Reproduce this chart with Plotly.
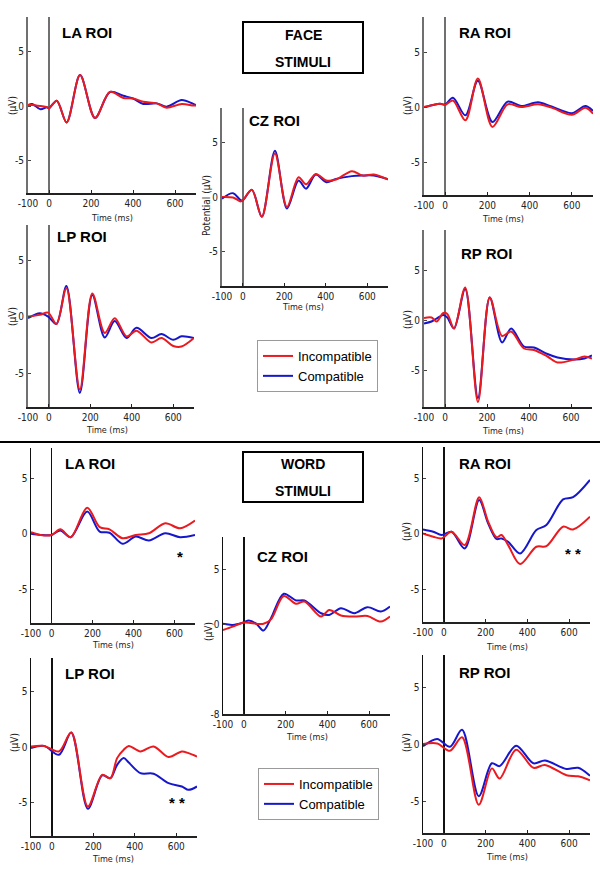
import plotly.graph_objects as go

W, H = 600, 869
RED = "#ea1a1f"
BLUE = "#1616cc"

# ---------------- DATA (time in ms, potential in µV) ----------------
face_la_t = [-100, -80, -40, -10, 0, 37, 84, 148, 219, 290, 354, 400, 449, 513, 560, 632, 687, 700]
face_la_inc = [0.1, 0.1, 0.0, -0.1, -0.2, 0.5, -1.5, 2.85, -1.1, 1.3, 0.75, 0.7, 0.4, 0.25, -0.15, 0.2, 0.05, 0.05]
face_la_com = [0.1, 0.2, -0.3, -0.1, -0.2, 0.5, -1.5, 2.85, -1.1, 1.3, 0.95, 0.7, 0.2, 0.25, -0.05, 0.55, 0.2, 0.1]

face_cz_t = [-100, -47, -10, 0, 44, 92, 155, 213, 269, 305, 352, 403, 450, 526, 577, 632, 700]
face_cz_inc = [0.0, -0.05, -0.4, -0.3, 0.65, -1.8, 3.95, -0.9, 1.8, 1.15, 2.1, 1.5, 1.6, 2.35, 1.95, 2.05, 1.6]
face_cz_com = [-0.15, 0.35, -0.3, -0.3, 0.65, -1.8, 4.2, -1.05, 1.5, 0.75, 2.05, 1.35, 1.65, 1.9, 1.95, 1.95, 1.6]

face_ra_t = [-100, -56, -24, 0, 37, 96, 155, 224, 296, 360, 440, 504, 600, 664, 700]
face_ra_inc = [0.0, 0.2, 0.3, 0.2, 0.6, -1.2, 2.6, -1.8, 0.25, 0.0, 0.25, -0.05, -0.7, -0.05, -0.6]
face_ra_com = [0.0, 0.2, 0.3, 0.25, 0.85, -0.75, 2.4, -1.35, 0.5, 0.1, 0.45, 0.05, -0.55, 0.1, -0.35]

face_lp_t = [-100, -43, -3, 37, 85, 150, 210, 270, 318, 375, 423, 495, 543, 600, 640, 700]
face_lp_inc = [0.0, 0.15, 0.35, -0.65, 2.5, -6.45, 2.05, -1.45, -0.15, -1.75, -1.25, -2.3, -1.9, -2.6, -2.65, -1.9]
face_lp_com = [-0.15, 0.3, 0.0, -0.65, 2.7, -6.75, 1.9, -1.85, -0.4, -1.9, -1.0, -1.9, -1.55, -2.05, -1.75, -1.9]

face_rp_t = [-100, -64, -40, -8, 11, 43, 96, 157, 213, 272, 315, 376, 424, 488, 536, 616, 664, 700]
face_rp_inc = [0.2, 0.25, -0.15, 0.7, 0.6, -0.85, 3.25, -8.2, 2.25, -1.6, -1.15, -2.85, -3.0, -3.65, -4.25, -3.95, -3.65, -3.85]
face_rp_com = [-0.35, -0.15, 0.15, 0.5, 0.25, -0.85, 3.1, -7.8, 2.25, -2.25, -0.85, -2.65, -2.75, -3.4, -3.75, -3.95, -3.85, -3.55]

word_la_t = [-100, -53, 0, 43, 94, 174, 235, 283, 347, 411, 475, 555, 627, 700]
word_la_inc = [0.15, -0.1, -0.1, 0.4, -0.3, 2.35, 0.6, 0.4, -0.4, -0.1, 0.05, 0.95, 0.5, 1.2]
word_la_com = [0.0, -0.1, -0.1, 0.3, -0.3, 2.0, 0.2, 0.1, -0.9, -0.25, -0.6, 0.05, -0.3, -0.1]

word_cz_t = [-100, -53, -5, 24, 60, 94, 130, 191, 250, 290, 370, 409, 465, 529, 592, 656, 700]
word_cz_inc = [-0.45, -0.15, 0.2, 0.2, 0.1, 0.1, 0.5, 2.6, 1.9, 2.1, 0.75, 1.35, 0.85, 0.75, 0.8, 0.3, 0.75]
word_cz_com = [0.1, 0.0, 0.2, 0.4, 0.1, -0.5, 0.6, 2.8, 2.2, 2.2, 1.05, 0.9, 1.5, 1.05, 1.6, 1.2, 1.65]

word_ra_t = [-100, -51, -11, 37, 100, 169, 212, 252, 276, 308, 365, 443, 491, 571, 619, 700]
word_ra_inc = [0.05, -0.25, -0.4, 0.2, -1.0, 3.3, 1.1, -0.3, -0.1, -1.0, -2.7, -1.15, -1.1, 0.65, 0.4, 1.55]
word_ra_com = [0.4, 0.2, -0.1, 0.2, -1.3, 3.05, 0.95, -0.45, -0.4, -0.7, -1.75, 0.35, 0.8, 3.1, 3.3, 4.85]

word_lp_t = [-100, -37, 35, 94, 174, 243, 283, 315, 347, 371, 427, 491, 563, 627, 659, 700]
word_lp_inc = [0.05, 0.1, -0.4, 1.3, -5.35, -2.5, -2.8, -1.0, -0.25, 0.1, -0.4, 0.05, -0.9, -0.4, -0.55, -0.85]
word_lp_com = [-0.1, 0.1, -0.7, 1.3, -5.55, -2.55, -2.8, -1.6, -1.0, -1.4, -2.35, -2.4, -3.25, -3.55, -3.85, -3.55]

word_rp_t = [-100, -32, 29, 87, 167, 230, 267, 346, 429, 484, 587, 643, 700]
word_rp_inc = [0.05, 0.1, -0.55, 0.65, -5.3, -2.1, -3.0, -0.45, -2.05, -1.8, -2.7, -2.8, -3.15]
word_rp_com = [-0.15, 0.5, -0.2, 1.3, -4.55, -1.65, -1.9, -0.1, -1.65, -1.4, -2.15, -2.05, -2.75]

series_names = ["Incompatible", "Compatible"]
x_ticks = [-100, 0, 200, 400, 600]
x_ticklabels = ["-100", "0", "200", "400", "600"]
y_ticks = [-5, 0, 5]
y_ticklabels = ["-5", "0", "5"]

# ---------------- LAYOUT SPEC (pixels) ----------------
NARROW = "DejaVu Sans Condensed, Liberation Sans Narrow, Arial Narrow, sans-serif"
BOLD = "Liberation Sans, Arial, sans-serif"

panels = [
    # title, t, inc, com, (x0,x1), (ytop,ybot), yrange, face?, title pos, ylabel, ylabel pos, time pos
    ("LA ROI", face_la_t, face_la_inc, face_la_com, (28, 196), (17, 193), [-8.0, 8.2], True, (60, 33), "(μV)", (12, 106), (112, 218)),
    ("CZ ROI", face_cz_t, face_cz_inc, face_cz_com, (222, 388), (108, 286), [-8.1, 8.1], True, (247, 120), "Potential (μV)", (207, 205), (303, 307)),
    ("RA ROI", face_ra_t, face_ra_inc, face_ra_com, (424, 593), (17, 195), [-8.0, 8.2], True, (457, 33), "(μV)", (407, 106), (503, 219)),
    ("LP ROI", face_lp_t, face_lp_inc, face_lp_com, (28, 194), (225, 407), [-8.0, 8.1], True, (55, 237), "(μV)", (12, 317), (107, 430)),
    ("RP ROI", face_rp_t, face_rp_inc, face_rp_com, (424, 592), (230, 407), [-8.7, 9.0], True, (459, 253), "(μV)", (407, 320), (503, 431)),
    ("LA ROI", word_la_t, word_la_inc, word_la_com, (31, 195), (448, 623), [-8.0, 7.7], False, (63, 463), None, None, (113, 645)),
    ("CZ ROI", word_cz_t, word_cz_inc, word_cz_com, (223, 390), (537, 714), [-8.0, 7.9], False, (255, 556), "(μV)", (208, 632), (307, 737)),
    ("RA ROI", word_ra_t, word_ra_inc, word_ra_com, (423, 590), (447, 622), [-7.9, 7.8], False, (457, 463), "(μV)", (406, 532), (507, 647)),
    ("LP ROI", word_lp_t, word_lp_inc, word_lp_com, (31, 197), (658, 836), [-8.0, 8.0], False, (63, 673), "(μV)", (14, 743), (113, 859)),
    ("RP ROI", word_rp_t, word_rp_inc, word_rp_com, (423, 590), (655, 833), [-7.8, 7.9], False, (457, 672), "(μV)", (406, 743), (507, 857)),
]

def fx(p):
    return p / W

def fy(p):
    return 1 - p / H

fig = go.Figure()
layout = dict(
    width=W, height=H,
    margin=dict(l=0, r=0, t=0, b=0, autoexpand=False),
    paper_bgcolor="white", plot_bgcolor="white",
    showlegend=True,
    font=dict(family=BOLD, color="black"),
)
annotations = []

for i, (title, t, inc, com, xd, yd, yr, face, tpos, ylab, ylpos, tmpos) in enumerate(panels):
    n = i + 1
    xa = "x" if n == 1 else f"x{n}"
    ya = "y" if n == 1 else f"y{n}"
    axis_col = "#707070" if face else "#111111"
    legend_id = "legend" if face else "legend2"
    show = (n == 1) or (n == 6)
    fig.add_trace(go.Scatter(x=t, y=com, xaxis=xa, yaxis=ya, mode="lines", name=series_names[1],
                             legend=legend_id, legendrank=2, showlegend=show,
                             line=dict(color=BLUE, width=2, shape="spline", smoothing=0.9)))
    fig.add_trace(go.Scatter(x=t, y=inc, xaxis=xa, yaxis=ya, mode="lines", name=series_names[0],
                             legend=legend_id, legendrank=1, showlegend=show,
                             line=dict(color=RED, width=2, shape="spline", smoothing=0.9)))
    xkey = "xaxis" if n == 1 else f"xaxis{n}"
    ykey = "yaxis" if n == 1 else f"yaxis{n}"
    yt, ytl = (y_ticks, y_ticklabels)
    if title == "CZ ROI" and not face:
        yt, ytl = ([-8, 0, 5], ["-8", "0", "5"])
    layout[xkey] = dict(
        domain=[fx(xd[0]), fx(xd[1])], anchor=ya, range=[-100, 700], automargin=False,
        tickvals=x_ticks, ticktext=x_ticklabels, ticks="inside", ticklen=3, tickcolor="#222",
        showline=True, linecolor="#222", linewidth=1.6,
        zeroline=True, zerolinecolor=axis_col, zerolinewidth=2 if face else 1.5,
        showgrid=False, fixedrange=True,
        tickfont=dict(family=NARROW, size=10, color="#222"),
    )
    layout[ykey] = dict(
        domain=[fy(yd[1]), fy(yd[0])], anchor=xa, range=yr, automargin=False,
        tickvals=yt, ticktext=ytl, ticks="inside", ticklen=3, tickcolor="#444",
        showline=True, linecolor=axis_col, linewidth=2 if face else 1.5,
        zeroline=False, showgrid=False, fixedrange=True,
        tickfont=dict(family=NARROW, size=10, color="#222"),
    )
    annotations.append(dict(text="<b>%s</b>" % title, xref="paper", yref="paper",
                            x=fx(tpos[0]), y=fy(tpos[1]), xanchor="left", yanchor="middle",
                            showarrow=False, font=dict(family=BOLD, size=15, color="black")))
    if ylab:
        annotations.append(dict(text=ylab, xref="paper", yref="paper", x=fx(ylpos[0]), y=fy(ylpos[1]),
                                xanchor="center", yanchor="middle", textangle=-90, showarrow=False,
                                font=dict(family=NARROW, size=10, color="#222")))
    annotations.append(dict(text="Time (ms)", xref="paper", yref="paper", x=fx(tmpos[0]), y=fy(tmpos[1]),
                            xanchor="center", yanchor="middle", showarrow=False,
                            font=dict(family=NARROW, size=9, color="#222")))

# significance stars (word panels)
annotations += [
    dict(text="<b>*</b>", xref="x6", yref="y6", x=627, y=-2.0, showarrow=False,
         font=dict(family=BOLD, size=15, color="black")),
    dict(text="<b>* *</b>", xref="x8", yref="y8", x=619, y=-1.75, showarrow=False,
         font=dict(family=BOLD, size=15, color="black")),
    dict(text="<b>* *</b>", xref="x9", yref="y9", x=603, y=-4.95, showarrow=False,
         font=dict(family=BOLD, size=15, color="black")),
]

# stimulus labels
for label, (cy1, cy2) in (("FACE", (35, 62)), ("WORD", (464, 491))):
    annotations.append(dict(text="<b>%s</b>" % label, xref="paper", yref="paper", x=fx(303), y=fy(cy1),
                            xanchor="center", yanchor="middle", showarrow=False,
                            font=dict(family=BOLD, size=14, color="black")))
    annotations.append(dict(text="<b>STIMULI</b>", xref="paper", yref="paper", x=fx(303), y=fy(cy2),
                            xanchor="center", yanchor="middle", showarrow=False,
                            font=dict(family=BOLD, size=14, color="black")))

shapes = [
    dict(type="rect", xref="paper", yref="paper", x0=fx(243), x1=fx(363), y0=fy(73), y1=fy(22),
         line=dict(color="black", width=2)),
    dict(type="rect", xref="paper", yref="paper", x0=fx(243), x1=fx(363), y0=fy(502), y1=fy(452),
         line=dict(color="black", width=2)),
    dict(type="line", xref="paper", yref="paper", x0=0, x1=1, y0=fy(442), y1=fy(442),
         line=dict(color="black", width=2)),
]

legend_style = dict(xanchor="left", yanchor="top", bordercolor="#9a9a9a", borderwidth=1,
                    bgcolor="white", font=dict(family=BOLD, size=13, color="black"),
                    itemwidth=30, tracegroupgap=0)
layout["legend"] = dict(x=fx(257), y=fy(340), **legend_style)
layout["legend2"] = dict(x=fx(258), y=fy(768), **legend_style)
layout["annotations"] = annotations
layout["shapes"] = shapes

fig.update_layout(**layout)
fig.write_html("out.html", config={"displayModeBar": False, "staticPlot": True},
               post_script="document.body.style.margin='0px';document.body.style.padding='0px';")
